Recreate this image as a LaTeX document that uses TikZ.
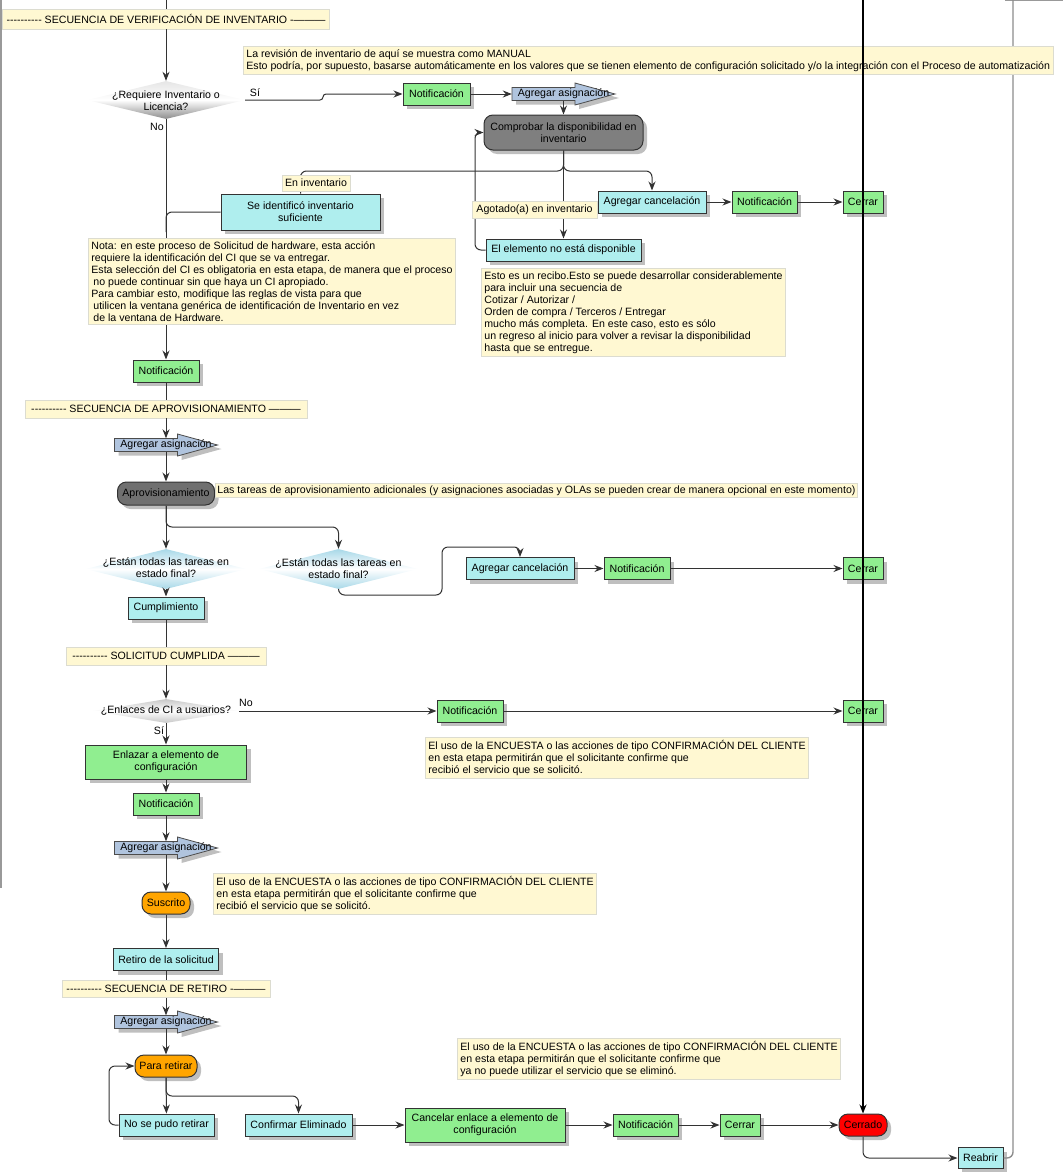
\documentclass[tikz,border=0pt]{standalone}
\usepackage{fontspec}
\newfontfamily\vfont{Liberation Sans}
\usetikzlibrary{arrows.meta,shapes.geometric,shadows}

\definecolor{boxgreen}{HTML}{90EE90}
\definecolor{boxcyan}{HTML}{AFEEEE}
\definecolor{asigblue}{HTML}{B0C4DE}
\definecolor{notefill}{HTML}{FFF8D2}
\definecolor{notedraw}{HTML}{DCDCD0}
\definecolor{stategray}{HTML}{7F7F7F}
\definecolor{stateorange}{HTML}{FFA500}
\definecolor{decblue}{HTML}{A8D8E8}

\tikzset{
	txt/.style={font=\vfont\fontsize{10.6}{12}\selectfont, text=black},
	shade box/.style={drop shadow={shadow xshift=4pt, shadow yshift=-4pt, fill=black!25, opacity=1}},
	boxbase/.style={txt, shade box, draw=black!80, line width=1pt, inner sep=2pt, align=center, minimum height=22pt},
	greenbox/.style={boxbase, fill=boxgreen},
	cyanbox/.style={boxbase, fill=boxcyan},
	statebox/.style={boxbase, rounded corners=9pt, fill=#1},
	decision/.style 2 args={diamond, inner sep=0pt, draw=none, top color=#1, bottom color=#2, middle color=white},
	dectext/.style={txt, align=center, inner sep=0pt},
	note/.style={txt, fill=notefill, draw=notedraw, line width=0.8pt, align=left, inner sep=3pt, anchor=north west},
	banner/.style={txt, fill=notefill, draw=notedraw, line width=0.8pt, inner sep=1pt},
	edgelabel/.style={txt, fill=notefill, draw=notedraw, line width=0.8pt, inner sep=2pt},
	yesno/.style={txt, inner sep=0pt},
	asigtxt/.style={txt, minimum width=103pt, minimum height=13pt, inner sep=0pt},
	asigshape/.style={shade box, fill=asigblue, draw=black!70, line width=0.8pt},
	link/.style={draw=black!80, line width=1pt, rounded corners=6pt},
	flow/.style={link, -{Stealth[length=9pt,width=7pt]}},
}

% arrow shaped assignment box, drawn round a centre point
\newcommand{\asigarrow}[1]{%
	\filldraw[asigshape, shift={#1}] (-51.5,-6.5) -- (11.5,-6.5) -- (11.5,-11) -- (51.5,0) -- (11.5,11) -- (11.5,6.5) -- (-51.5,6.5) -- cycle;}

\begin{document}
\begin{tikzpicture}[x=1pt, y=-1pt]
	\useasboundingbox (0,0) rectangle (1063,1172);

	%frame
	\draw[black!40, line width=1.2pt] (1,0) -- (1,888);
	\draw[black!40, line width=1.2pt] (1005,0.6) -- (1063,0.6);

	%arrow shapes
	\foreach \p in {(563.5,94), (166,445), (166,848), (166,1022)}
		\asigarrow{\p};

	%nodes
	\node[banner, minimum width=327pt, minimum height=20pt] (ban1) at (166,19) {---------- SECUENCIA DE VERIFICACIÓN DE INVENTARIO -———};
	\node[decision={black!10}{black!45}, minimum width=158pt, minimum height=38pt] (dec1) at (166,100) {};
	\node[dectext] (dec1t) at (166,101) {¿Requiere Inventario o\\Licencia?};
	\node[greenbox, minimum width=67pt] (noti1) at (436.5,94) {Notificación};
	\node[asigtxt] (asig1) at (563.5,94) {Agregar asignación};
	\node[statebox=stategray, minimum width=159pt, minimum height=35pt] (comp) at (563.5,132.5) {Comprobar la disponibilidad en\\inventario};
	\node[cyanbox, minimum width=159pt, minimum height=36pt] (ident) at (300.5,212) {Se identificó inventario\\suficiente};
	\node[cyanbox, minimum width=108pt] (canc1) at (652,202) {Agregar cancelación};
	\node[greenbox, minimum width=65pt] (noti2) at (764.5,202) {Notificación};
	\node[greenbox, minimum width=40pt] (cerr1) at (863,202) {Cerrar};
	\node[cyanbox, minimum width=155pt] (noDisp) at (563.5,250) {El elemento no está disponible};

	\node[greenbox, minimum width=66pt] (noti3) at (166,371) {Notificación};
	\node[banner, minimum width=282pt, minimum height=18pt] (ban2) at (166,409) {---------- SECUENCIA DE APROVISIONAMIENTO ———};
	\node[asigtxt] (asig2) at (166,445) {Agregar asignación};
	\node[statebox=stategray!88!black, minimum width=97pt, minimum height=23pt] (aprov) at (166,493.5) {Aprovisionamiento};
	\node[decision={decblue}{decblue}, minimum width=161pt, minimum height=40pt] (decA) at (166,569) {};
	\node[dectext] (decAt) at (166,568) {¿Están todas las tareas en\\estado final?};
	\node[decision={decblue}{decblue}, minimum width=159pt, minimum height=40pt] (decB) at (338.5,569) {};
	\node[dectext] (decBt) at (338.5,569) {¿Están todas las tareas en\\estado final?};
	\node[cyanbox, minimum width=76pt] (cumpl) at (166,608) {Cumplimiento};
	\node[cyanbox, minimum width=108pt] (canc2) at (520,568.5) {Agregar cancelación};
	\node[greenbox, minimum width=66pt] (noti4) at (637,568.5) {Notificación};
	\node[greenbox, minimum width=40pt] (cerr2) at (863,568.5) {Cerrar};

	\node[banner, minimum width=200pt, minimum height=18pt] (ban3) at (166,656) {---------- SOLICITUD CUMPLIDA ———};
	\node[decision={black!22}{black!22}, minimum width=146pt, minimum height=24pt] (decC) at (166,711) {};
	\node[dectext] (decCt) at (166,711) {¿Enlaces de CI a usuarios?};
	\node[greenbox, minimum width=66pt] (noti5) at (470,711) {Notificación};
	\node[greenbox, minimum width=40pt] (cerr3) at (863,711) {Cerrar};
	\node[greenbox, minimum width=161pt, minimum height=34pt] (enlazar) at (166,762) {Enlazar a elemento de\\configuración};
	\node[greenbox, minimum width=66pt] (noti6) at (166,804) {Notificación};
	\node[asigtxt] (asig3) at (166,848) {Agregar asignación};
	\node[statebox=stateorange, minimum width=48pt] (suscr) at (166,903) {Suscrito};
	\node[cyanbox, minimum width=105pt] (retiro) at (166,959.5) {Retiro de la solicitud};

	\node[banner, minimum width=208pt, minimum height=17pt] (ban4) at (166,989) {---------- SECUENCIA DE RETIRO -———};
	\node[asigtxt] (asig4) at (166,1022) {Agregar asignación};
	\node[statebox=stateorange, minimum width=62pt] (pararet) at (166,1066) {Para retirar};
	\node[cyanbox, minimum width=95pt] (nopudo) at (166.5,1125) {No se pudo retirar};
	\node[cyanbox, minimum width=107pt] (confElim) at (298.5,1125) {Confirmar Eliminado};
	\node[greenbox, minimum width=160pt, minimum height=34pt] (cancEnl) at (485,1125) {Cancelar enlace a elemento de\\configuración};
	\node[greenbox, minimum width=65pt] (noti7) at (645.5,1125) {Notificación};
	\node[greenbox, minimum width=40pt] (cerr4) at (740,1125) {Cerrar};
	\node[statebox=red, minimum width=48pt] (cerrado) at (863,1125) {Cerrado};
	\node[cyanbox, minimum width=45pt, minimum height=21pt] (reabrir) at (980.5,1158) {Reabrir};

	%paths
	\coordinate (top1) at (166,0);
	\coordinate (top2) at (863,0);
	\coordinate (top3) at (1013,0);
	\coordinate (merge1) at (166,232);
	\draw[link] (top1) -- (ban1);
	\draw[link] (noti3) -- (ban2);
	\draw[link] (cumpl) -- (ban3);
	\draw[link] (retiro) -- (ban4);
	\foreach \a/\b in {ban1/dec1, noti1/asig1, asig1/comp, comp/noDisp, canc1/noti2, noti2/cerr1,
		dec1/noti3, ban2/asig2, asig2/aprov, aprov/decA, decA/cumpl, canc2/noti4, noti4/cerr2,
		ban3/decC, decC/noti5, noti5/cerr3, decC/enlazar, enlazar/noti6, noti6/asig3, asig3/suscr,
		suscr/retiro, ban4/asig4, asig4/pararet, pararet/nopudo,
		confElim/cancEnl, cancEnl/noti7, noti7/cerr4, cerr4/cerrado}
		\draw[flow] (\a) -- (\b);

	\draw[flow, rounded corners=3pt] (dec1.east) -- (323,100) |- (noti1);
	\draw[link] (comp.south) -- (563.5,171) -| (ident.north);
	\draw[flow] (comp.south) -- (563.5,171) -| (canc1.north);
	\draw[flow] (noDisp.west) -- (475,250) |- (comp.west);
	\draw[link] (ident.west) -| (merge1);
	\draw[flow] (aprov.south) -- (166,527) -| (decB.north);
	\draw[flow] (decB.south) -- (338.5,595) -- (442,595) -- (442,547) -| (canc2.north);
	\draw[flow] (pararet.south) -- (166,1096) -| (confElim.north);
	\draw[flow] (nopudo.west) -- (109,1125) |- (pararet.west);
	\draw[flow] (cerrado.south) |- (reabrir.west);
	\draw[link, black!45, line width=1.4pt] (reabrir.east) -| (top3);

	%notes
	\node[note] (noteTop) at (243,46) {La revisión de inventario de aquí se muestra como MANUAL\\Esto podría, por supuesto, basarse automáticamente en los valores que se tienen elemento de configuración solicitado y/o la integración con el Proceso de automatización};
	\node[note] (noteNota) at (88,238) {Nota: en este proceso de Solicitud de hardware, esta acción\\requiere la identificación del CI que se va entregar.\\Esta selección del CI es obligatoria en esta etapa, de manera que el proceso\\\hspace*{2pt}no puede continuar sin que haya un CI apropiado.\\Para cambiar esto, modifique las reglas de vista para que\\\hspace*{2pt}utilicen la ventana genérica de identificación de Inventario en vez\\\hspace*{2pt}de la ventana de Hardware.};
	\node[note] (noteRecibo) at (481,268) {Esto es un recibo.Esto se puede desarrollar considerablemente\\para incluir una secuencia de\\Cotizar / Autorizar /\\Orden de compra / Terceros / Entregar\\mucho más completa. En este caso, esto es sólo\\un regreso al inicio para volver a revisar la disponibilidad\\hasta que se entregue.};
	\node[note, inner sep=2pt] (noteAprov) at (215,483) {Las tareas de aprovisionamiento adicionales (y asignaciones asociadas y OLAs se pueden crear de manera opcional en este momento)};
	\node[note] (noteCli1) at (425,737) {El uso de la ENCUESTA o las acciones de tipo CONFIRMACIÓN DEL CLIENTE\\en esta etapa permitirán que el solicitante confirme que\\recibió el servicio que se solicitó.};
	\node[note] (noteCli2) at (213,873) {El uso de la ENCUESTA o las acciones de tipo CONFIRMACIÓN DEL CLIENTE\\en esta etapa permitirán que el solicitante confirme que\\recibió el servicio que se solicitó.};
	\node[note] (noteCli3) at (457,1038) {El uso de la ENCUESTA o las acciones de tipo CONFIRMACIÓN DEL CLIENTE\\en esta etapa permitirán que el solicitante confirme que\\ya no puede utilizar el servicio que se eliminó.};

	%labels
	\node[edgelabel, minimum width=68pt, minimum height=16pt] (lblIn) at (316,183) {En inventario};
	\node[edgelabel, minimum width=125pt, minimum height=17pt] (lblOut) at (534.5,210) {Agotado(a) en inventario};
	\node[yesno] (si1) at (255,93) {Sí};
	\node[yesno] (no1) at (157,127) {No};
	\node[yesno] (no2) at (246,703) {No};
	\node[yesno] (si2) at (159,731) {Sí};

	%closing line over everything
	\draw[flow, black, line width=1.8pt] (top2) -- (cerrado.north);

\end{tikzpicture}
\end{document}
